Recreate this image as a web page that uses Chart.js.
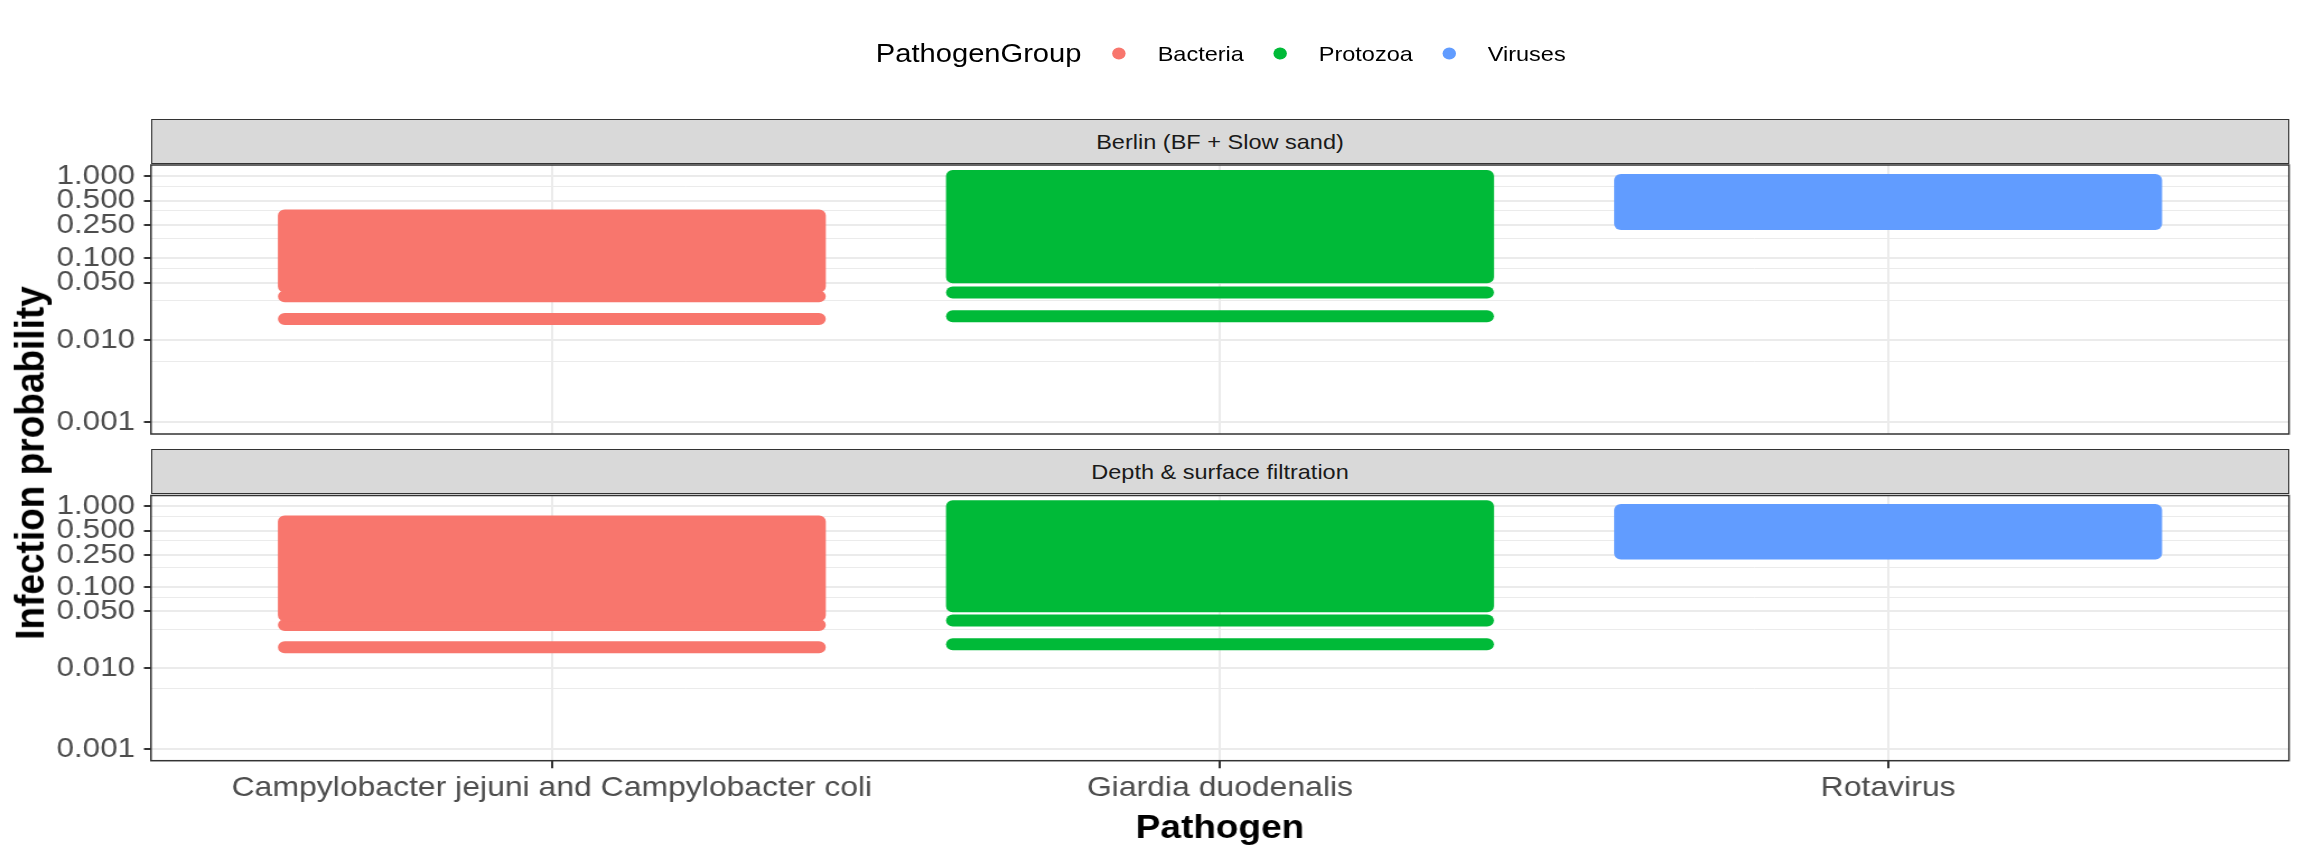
<!DOCTYPE html>
<html>
<head>
<meta charset="utf-8">
<script src="https://cdn.jsdelivr.net/npm/chart.js@4.4.1/dist/chart.umd.min.js"></script>
<style>
  html, body { margin: 0; padding: 0; background: #fff; }
  body { width: 2304px; height: 865px; overflow: hidden; position: relative;
         font-family: "Liberation Sans", Arial, Helvetica, sans-serif; }
  /* the reference is drawn a bit wider than tall, so the whole page is stretched */
  #page { position: absolute; left: 0; top: 0; width: 2057.14px; height: 865px;
          transform: scaleX(1.12); transform-origin: 0 0; }
  #legend { position: absolute; left: 782px; top: 53px; transform: translateY(-50%);
            display: flex; align-items: center; white-space: nowrap; }
  #legend .title { font-size: 26px; color: #000; margin-right: 27.5px; }
  #legend .dot { width: 12px; height: 12px; border-radius: 50%; margin-right: 28.5px; }
  #legend .lab { font-size: 21px; color: #000; margin-right: 26.3px; }
  .strip { position: absolute; left: 134.8px; width: 1909px; height: 45px; box-sizing: border-box;
           background: #D9D9D9; border: 1.5px solid #333333; display: flex;
           align-items: center; justify-content: center; font-size: 21px; color: #1A1A1A; }
  .panel { position: absolute; left: 0; width: 2057.14px; }
  #ytitle { position: absolute; left: 26.8px; top: 463px; transform: translate(-50%, -50%) rotate(-90deg);
            font-size: 37px; font-weight: bold; color: #000; white-space: nowrap; }
</style>
</head>
<body>
<div id="page">
  <div id="legend"></div>
  <div class="strip" id="strip0" style="top:119px"></div>
  <div class="panel" style="top:157px;height:285px"><canvas id="panelTop"></canvas></div>
  <div class="strip" id="strip1" style="top:449px"></div>
  <div class="panel" style="top:488px;height:377px"><canvas id="panelBottom"></canvas></div>
  <div id="ytitle">Infection probability</div>
</div>
<script>
const pathogens = ['Campylobacter jejuni and Campylobacter coli', 'Giardia duodenalis', 'Rotavirus'];
const pathogenGroup = ['Bacteria', 'Protozoa', 'Viruses'];
const groups = ['Bacteria', 'Protozoa', 'Viruses'];
const groupColors = ['#F8766D', '#00BA38', '#619CFF'];
const facets = ['Berlin (BF + Slow sand)', 'Depth & surface filtration'];

const yMajor = [0.001, 0.01, 0.05, 0.1, 0.25, 0.5, 1];
const yMinor = [0.0055, 0.03, 0.075, 0.175, 0.375, 0.75];

// dense part of each jittered cloud, [lowest, highest], one per pathogen
const berlinCloud = [[0.045, 0.33], [0.058, 1.0], [0.26, 0.89]];
const depthCloud = [[0.045, 0.65], [0.058, 1.0], [0.26, 0.9]];
// lone rows of points below the cloud
const berlinRows = [[0.018, 0.034], [0.0195, 0.038], []];
const depthRows = [[0.018, 0.034], [0.0196, 0.0387], []];

const AREA_L = 134.8;   // left edge of the panels (page units)
const AREA_R = 2043.75; // right edge of the panels
const DOT = 12;         // point diameter

Chart.defaults.font.family = '"Liberation Sans", Arial, Helvetica, sans-serif';

// legend
const legend = document.getElementById('legend');
legend.innerHTML = '<span class="title">PathogenGroup</span>' + groups.map((g, i) =>
  `<span class="dot" style="background:${groupColors[i]}"></span><span class="lab">${g}</span>`).join('');
document.getElementById('strip0').textContent = facets[0];
document.getElementById('strip1').textContent = facets[1];

function isMajor(c) {
  return !!(c.tick && yMajor.includes(c.tick.value));
}

function buildDatasets(cloud, rows) {
  const sets = [];
  pathogens.forEach((p, i) => {
    const color = groupColors[groups.indexOf(pathogenGroup[i])];
    // the cloud: a band grown by half a point on every side
    sets.push({ label: pathogenGroup[i], data: [{ x: i + 1, y: cloud[i] }], backgroundColor: color,
                borderRadius: DOT / 2, inflateAmount: DOT / 2, barPercentage: 0.8 });
    // a single row: one point tall, rounded ends
    rows[i].forEach(v => sets.push({ label: pathogenGroup[i], data: [{ x: i + 1, y: [v, v] }],
                                     backgroundColor: color, base: v, minBarLength: DOT,
                                     borderRadius: DOT / 2, inflateAmount: 0, barPercentage: 0.82 }));
  });
  return sets;
}

// grey frame round each panel, on top of the points
const panelBorder = {
  id: 'panelBorder',
  afterDraw(chart) {
    const { ctx, chartArea: a } = chart;
    ctx.save();
    ctx.strokeStyle = '#333333';
    ctx.lineWidth = 1.5;
    ctx.strokeRect(a.left, a.top, a.right - a.left, a.bottom - a.top);
    ctx.restore();
  }
};

function makePanel(id, cloud, rows, isBottom) {
  return new Chart(document.getElementById(id), {
    type: 'bar',
    data: { datasets: buildDatasets(cloud, rows) },
    options: {
      responsive: true,
      maintainAspectRatio: false,
      animation: false,
      events: [],
      datasets: { bar: { grouped: false, categoryPercentage: 1, borderWidth: 0, borderSkipped: false } },
      layout: {
        padding: isBottom
          ? { left: 0, right: 2057.14 - AREA_R, top: 7.5, bottom: 16 }
          : { left: 0, right: 2057.14 - AREA_R, top: 8, bottom: 8 }
      },
      plugins: { legend: { display: false }, tooltip: { enabled: false } },
      scales: {
        x: {
          type: 'linear',
          min: 0.4,
          max: 3.6,
          bounds: 'data',
          offset: false,
          afterBuildTicks: s => { s.ticks = pathogens.map((p, i) => ({ value: i + 1 })); },
          afterFit: s => { s.paddingLeft = 0; s.paddingRight = 0; },
          border: { display: false },
          grid: { offset: false, color: '#EBEBEB', lineWidth: 2, drawTicks: isBottom,
                  tickColor: '#333333', tickWidth: 2, tickLength: 7.5 },
          ticks: { display: isBottom, autoSkip: false, maxRotation: 0, padding: 3,
                   color: '#4D4D4D', font: { size: 28.5 },
                   callback: v => pathogens[v - 1] || '' },
          title: { display: isBottom, text: 'Pathogen', color: '#000',
                   font: { size: 33, weight: 'bold' }, padding: { top: 1, bottom: 0 } }
        },
        y: {
          type: 'logarithmic',
          min: 0.000713,
          max: 1.36,
          bounds: 'data',
          afterBuildTicks: s => {
            s.ticks = yMajor.concat(yMinor).sort((a, b) => a - b).map(v => ({ value: v }));
          },
          afterFit: s => { s.width = AREA_L; s.paddingTop = 0; s.paddingBottom = 0; },
          border: { display: false },
          grid: {
            color: '#EBEBEB',
            lineWidth: c => isMajor(c) ? 2 : 1,
            tickColor: c => isMajor(c) ? '#333333' : 'rgba(0,0,0,0)',
            tickWidth: 2,
            tickLength: 6.25
          },
          ticks: { autoSkip: false, padding: 8, color: '#4D4D4D', font: { size: 28 },
                   callback: v => yMajor.includes(v) ? v.toFixed(3) : '' }
        }
      }
    },
    plugins: [panelBorder]
  });
}

makePanel('panelTop', berlinCloud, berlinRows, false);
makePanel('panelBottom', depthCloud, depthRows, true);
</script>
</body>
</html>
